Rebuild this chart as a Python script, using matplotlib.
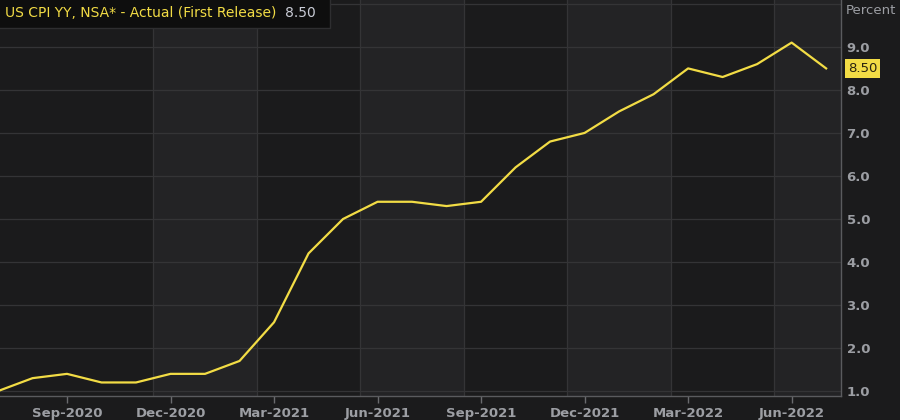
import numpy as np
import matplotlib.pyplot as plt
from matplotlib.patches import Rectangle

# monthly US CPI YoY, Jul-2020 .. Jul-2022
months = ['Jul-2020', 'Aug-2020', 'Sep-2020', 'Oct-2020', 'Nov-2020', 'Dec-2020',
          'Jan-2021', 'Feb-2021', 'Mar-2021', 'Apr-2021', 'May-2021', 'Jun-2021',
          'Jul-2021', 'Aug-2021', 'Sep-2021', 'Oct-2021', 'Nov-2021', 'Dec-2021',
          'Jan-2022', 'Feb-2022', 'Mar-2022', 'Apr-2022', 'May-2022', 'Jun-2022',
          'Jul-2022']
cpi = [1.0, 1.3, 1.4, 1.2, 1.2, 1.4,
       1.4, 1.7, 2.6, 4.2, 5.0, 5.4,
       5.4, 5.3, 5.4, 6.2, 6.8, 7.0,
       7.5, 7.9, 8.5, 8.3, 8.6, 9.1,
       8.5]
tick_labels = ['Sep-2020', 'Dec-2020', 'Mar-2021', 'Jun-2021',
               'Sep-2021', 'Dec-2021', 'Mar-2022', 'Jun-2022']
y_ticks = [1.0, 2.0, 3.0, 4.0, 5.0, 6.0, 7.0, 8.0, 9.0]

BG = '#1b1b1c'
BAND = '#232325'
GRID = '#343436'
YELLOW = '#f2dc45'
LABEL = '#9c9ea3'

x = np.arange(len(months))

fig = plt.figure(figsize=(9, 4.2), dpi=100, facecolor=BG)
ax = fig.add_axes([0, 0.057, 0.9344, 0.943])
ax.set_facecolor(BG)

# alternating quarter bands
for start in [4.5, 10.5, 16.5, 22.5]:
    ax.axvspan(start, start + 3, color=BAND, zorder=0, lw=0)
for g in np.arange(4.5, 25, 3):
    ax.axvline(g, color=GRID, lw=0.9, zorder=1)
for v in y_ticks + [10.0]:
    ax.axhline(v, color=GRID, lw=0.9, zorder=1)

ax.plot(x, cpi, color=YELLOW, lw=1.6, zorder=3)

ax.set_xlim(0.058, 24.43)
ax.set_ylim(0.884, 10.09)

ax.set_xticks([months.index(t) for t in tick_labels])
ax.set_xticklabels(tick_labels)
ax.yaxis.tick_right()
ax.set_yticks(y_ticks)
ax.set_yticklabels(['%.1f' % v for v in y_ticks])
ax.tick_params(axis='x', colors='#6a6b6e', length=5, width=1, labelcolor=LABEL,
               labelsize=9.5, pad=3)
ax.tick_params(axis='y', length=0, labelcolor=LABEL, labelsize=9.5, pad=4)
for lbl in ax.get_xticklabels() + ax.get_yticklabels():
    lbl.set_fontweight('bold')

for side in ['top', 'left']:
    ax.spines[side].set_visible(False)
for side in ['bottom', 'right']:
    ax.spines[side].set_color('#5a5b5e')
    ax.spines[side].set_linewidth(1)

fig.text(0.94, 0.975, 'Percent', color=LABEL, fontsize=9.5, va='center', ha='left')

# last value tag
ax.annotate('%.2f' % cpi[-1], xy=(1.0, cpi[-1]), xycoords=('axes fraction', 'data'),
            xytext=(5, 0), textcoords='offset points', va='center', ha='left',
            fontsize=9.5, color='#2a2410',
            bbox=dict(boxstyle='square,pad=0.2', fc=YELLOW, ec='none'), zorder=5)

# title box
fig.patches.append(Rectangle((-0.01, 0.933), 0.377, 0.08, transform=fig.transFigure,
                             fc='#0e0e0e', ec='#2e2e30', lw=1, zorder=5))
title = fig.text(0.006, 0.968, 'US CPI YY, NSA* - Actual (First Release)', color=YELLOW,
                 fontsize=10, va='center', ha='left', zorder=6)
fig.canvas.draw()
bb = title.get_window_extent().transformed(fig.transFigure.inverted())
fig.text(bb.x1 + 0.009, 0.968, '%.2f' % cpi[-1], color='#c9ccd6', fontsize=10,
         va='center', ha='left', zorder=7)

fig.savefig('out.png', dpi=100, facecolor=BG)
